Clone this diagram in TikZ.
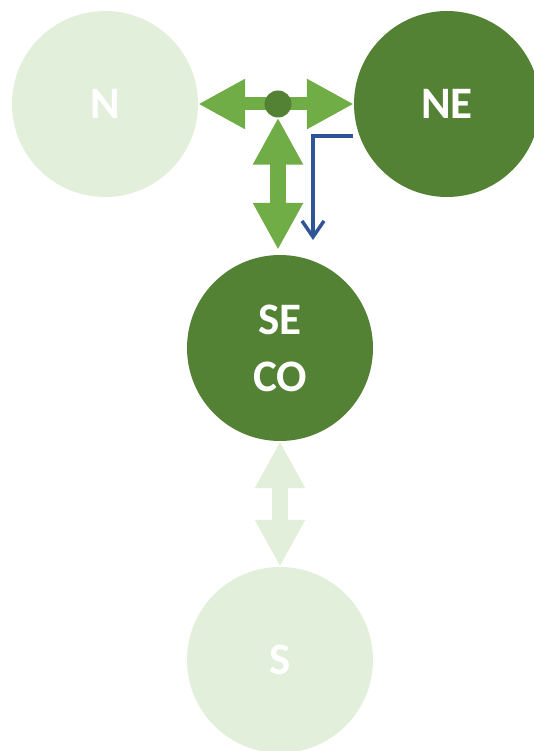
\documentclass[tikz,border=0pt]{standalone}
\usepackage{fontspec}
\setmainfont{Carlito}
\usetikzlibrary{arrows.meta}
\definecolor{lightgreen}{HTML}{E2EFDA}
\definecolor{darkgreen}{HTML}{548235}
\definecolor{midgreen}{HTML}{70AD47}
\definecolor{darkblue}{HTML}{2F5597}
\begin{document}
\begin{tikzpicture}[x=1pt,y=-1pt,
	region/.style={circle,minimum size=186pt,inner sep=0pt,text=white,
		font=\bfseries\fontsize{45}{57}\selectfont,align=center},
	fatarrow/.style={line width=#1,
		{Triangle[length=47pt,width=47pt]}-{Triangle[length=47pt,width=47pt]}},
	fatarrow/.default=16pt]
	\useasboundingbox (0,0) rectangle (534,751);
	% Draw the four regions
	\node (n) [region,fill=lightgreen] at (105,104) {N};
	\node (ne) [region,fill=darkgreen] at (447,104) {NE};
	\node (seco) [region,fill=darkgreen] at (280,348) {SE\\CO};
	\node (s) [region,fill=lightgreen] at (280,660) {S};
	% Draw the double arrows between them
	\draw [fatarrow=13pt,midgreen] (n.east) -- (ne.west);
	\node (hub) [circle,fill=darkgreen,minimum size=27pt,inner sep=0pt] at (278,104) {};
	\draw [fatarrow,midgreen,shorten >=5pt] (hub.south) -- (hub.south |- seco.north);
	\draw [fatarrow,lightgreen] (seco.south) -- (s.north);
	% Draw the blue flow arrow from NE down
	\coordinate (b_1) at (353,136);
	\coordinate (b_2) at (313,240);
	\draw [darkblue,line width=3.5pt,-{Straight Barb[length=16pt,width=22pt]}] (b_1) -| (b_2);
\end{tikzpicture}
\end{document}
